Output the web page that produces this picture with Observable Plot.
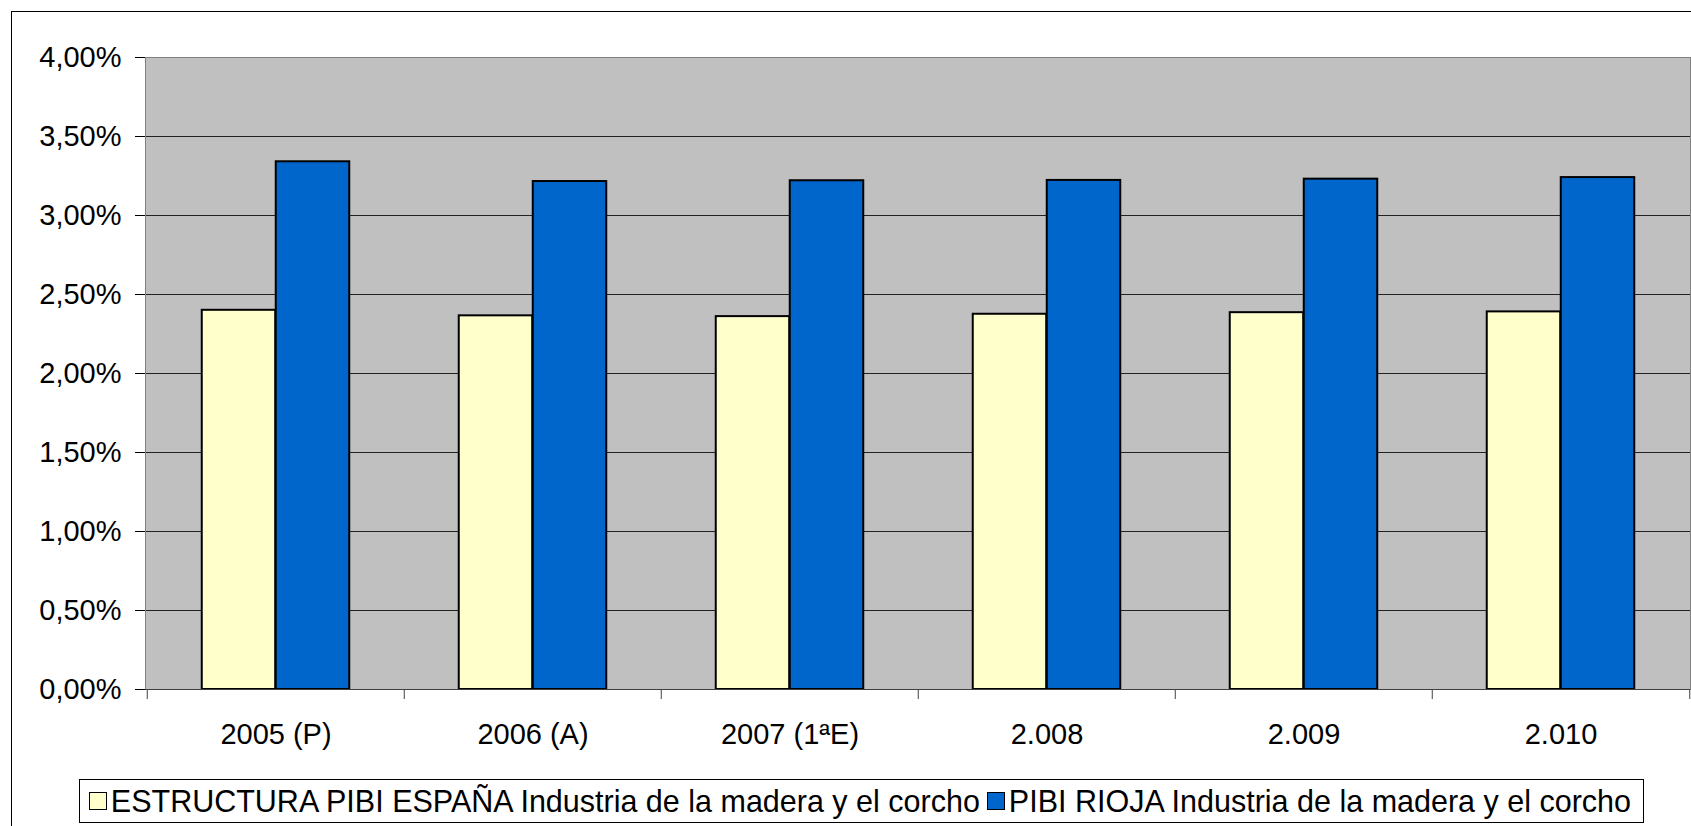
<!DOCTYPE html>
<html>
<head>
<meta charset="utf-8">
<script src="https://cdn.jsdelivr.net/npm/d3@7"></script>
<script src="https://cdn.jsdelivr.net/npm/@observablehq/plot@0.6"></script>
<style>
  html, body { margin: 0; padding: 0; background: #fff; overflow: hidden; }
  #wrap { position: relative; width: 1691px; height: 826px; overflow: hidden; background: #fff; font-family: "Liberation Sans", Arial, sans-serif; }
  #border { position: absolute; left: 11px; top: 11px; width: 2000px; height: 2000px; border: 1px solid #000; pointer-events: none; z-index: 2; }
  #legend { position: absolute; right: 47px; top: 779px; height: 42px; border: 1px solid #000; background: #fff; display: flex; align-items: center; padding: 0 12px 0 9px; font-size: 30.5px; color: #000; white-space: nowrap; z-index: 3; }
  #legend .sw { display: inline-block; width: 16px; height: 16px; border: 1.5px solid #000; margin-right: 4px; }
  #legend .item { display: flex; align-items: center; }
  #legend .item + .item { margin-left: 7px; }
</style>
</head>
<body>
<div id="wrap">
  <div id="chart"></div>
  <div id="legend"></div>
  <div id="border"></div>
</div>
<script>
const categories = ["2005 (P)", "2006 (A)", "2007 (1ªE)", "2.008", "2.009", "2.010"];
const espana = [2.40, 2.365, 2.36, 2.375, 2.385, 2.39];
const rioja = [3.34, 3.215, 3.22, 3.222, 3.23, 3.24];
const seriesNames = [
  "ESTRUCTURA PIBI ESPAÑA Industria de la madera y el corcho",
  "PIBI RIOJA Industria de la madera y el corcho"
];
const seriesColors = ["#FFFFCC", "#0066CC"];
const yTicks = [0, 0.5, 1, 1.5, 2, 2.5, 3, 3.5, 4];

const W = 1691, H = 760;
const mL = 145, mR = 1, mT = 57, mB = 71;
const bw = (W - mL - mR) / categories.length;
const barW = 74;
const outer = bw / 2 - barW;

const rowsE = categories.map((c, i) => ({cat: c, value: espana[i]}));
const rowsR = categories.map((c, i) => ({cat: c, value: rioja[i]}));
const fmt = d => d.toFixed(2).replace(".", ",") + "%";

const plot = Plot.plot({
  width: W, height: H,
  marginLeft: mL, marginRight: mR, marginTop: mT, marginBottom: mB,
  style: {background: "transparent", fontFamily: "'Liberation Sans', Arial, sans-serif", fontSize: "29px", color: "#000"},
  x: {type: "band", domain: categories, padding: 0, axis: null, label: null},
  y: {domain: [0, 4], axis: null, label: null},
  marks: [
    Plot.frame({fill: "#C0C0C0"}),
    Plot.gridY(yTicks, {stroke: "#222", strokeOpacity: 1}),
    Plot.frame({stroke: "#808080"}),
    Plot.barY(rowsE, {x: "cat", y: "value", fill: seriesColors[0], stroke: "#000", strokeWidth: 2, insetLeft: outer, insetRight: bw / 2}),
    Plot.barY(rowsR, {x: "cat", y: "value", fill: seriesColors[1], stroke: "#000", strokeWidth: 2, insetLeft: bw / 2, insetRight: outer}),
    Plot.ruleY([0], {stroke: "#404040"}),
    Plot.axisY({ticks: yTicks, tickFormat: fmt, tickSize: 10, tickPadding: 14, stroke: "#000", fontSize: 29, label: null}),
    Plot.axisX({tickSize: 0, tickPadding: 34, fontSize: 29, label: null}),
    Plot.axisX({tickSize: 10, tickFormat: () => "", dx: -bw / 2, stroke: "#404040", label: null}),
    Plot.axisX({ticks: [categories[categories.length - 1]], tickSize: 10, tickFormat: () => "", dx: bw / 2, stroke: "#404040", label: null})
  ]
});
document.getElementById("chart").appendChild(plot);

const legend = document.getElementById("legend");
seriesNames.forEach((name, i) => {
  const item = document.createElement("span");
  item.className = "item";
  const sw = document.createElement("span");
  sw.className = "sw";
  sw.style.background = seriesColors[i];
  item.appendChild(sw);
  item.appendChild(document.createTextNode(name));
  legend.appendChild(item);
});
</script>
</body>
</html>
